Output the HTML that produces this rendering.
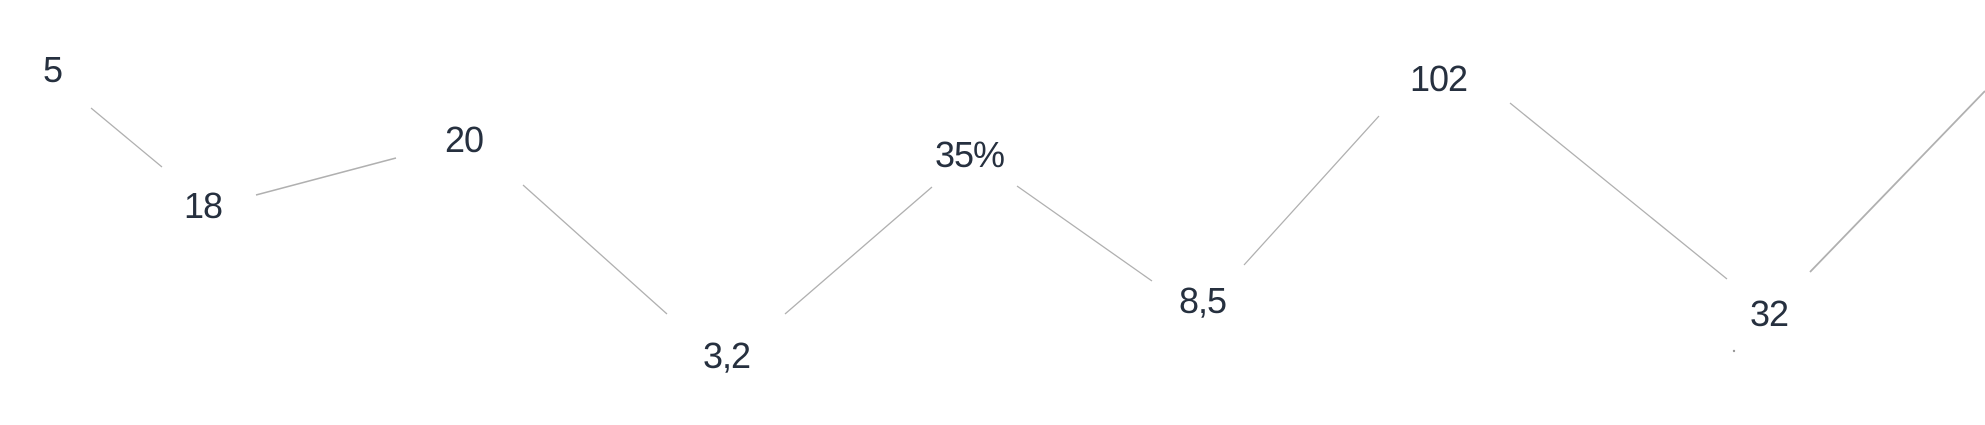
<!DOCTYPE html>
<html><head><style>
html,body{margin:0;padding:0;background:#fff;}
svg{display:block;}
text{font-family:"Liberation Sans",sans-serif;font-size:36px;fill:#26303f;letter-spacing:-1px;}
line{stroke:#b0b0b0;stroke-width:1.3;}
</style></head><body>
<svg width="1985" height="425" viewBox="0 0 1985 425">
<line x1="91" y1="108" x2="162" y2="167"/>
<line x1="256" y1="195" x2="396" y2="158" style="stroke-width:1.6"/>
<line x1="523" y1="185" x2="667" y2="314"/>
<line x1="785" y1="314" x2="932" y2="187"/>
<line x1="1017" y1="186" x2="1152" y2="281"/>
<line x1="1244" y1="265" x2="1379" y2="116"/>
<line x1="1510" y1="103" x2="1727" y2="279"/>
<line x1="1810" y1="272" x2="1985" y2="91" style="stroke-width:1.8"/>
<circle cx="1734" cy="351" r="1.2" fill="#999"/>
<text x="43" y="82">5</text>
<text x="184" y="218">18</text>
<text x="445" y="152">20</text>
<text x="703" y="368">3,2</text>
<text x="935" y="167">35%</text>
<text x="1179" y="313">8,5</text>
<text x="1410" y="91">102</text>
<text x="1750" y="326">32</text>
</svg>
</body></html>
